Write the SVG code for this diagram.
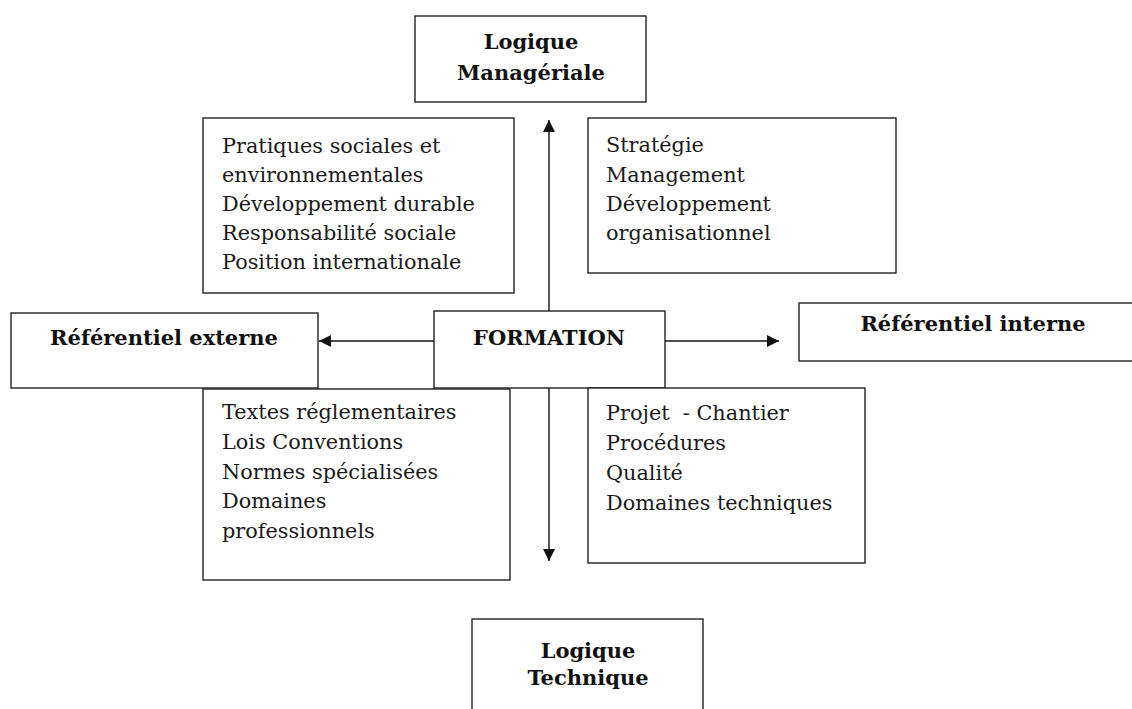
<svg xmlns="http://www.w3.org/2000/svg" width="1132" height="709" viewBox="0 0 1132 709">
<defs>
<style>
.box{fill:#fff;stroke:#222;stroke-width:1.4}
.t{font-family:"DejaVu Serif","Liberation Serif",serif;font-size:20.8px;fill:#1a1a1a}
.b{font-family:"DejaVu Serif","Liberation Serif",serif;font-size:21px;font-weight:bold;fill:#111;text-anchor:middle}
.c{stroke:#111;stroke-width:1.4;fill:none}
.pre{white-space:pre}
</style>
<marker id="ah" viewBox="0 0 10 10" refX="10" refY="5" markerWidth="12" markerHeight="12" markerUnits="userSpaceOnUse" orient="auto">
<path d="M0,0 L10,5 L0,10 z" fill="#111"/>
</marker>
</defs>
<rect width="1132" height="709" fill="#fff"/>
<g id="n-manageriale">
<rect class="box" x="415" y="16" width="231" height="86"/>
<text class="b" x="531" y="49">Logique</text>
<text class="b" x="531" y="80">Managériale</text>
</g>
<g id="n-pratiques">
<rect class="box" x="203" y="118" width="311" height="175"/>
<text class="t" x="222" y="153">Pratiques sociales et</text>
<text class="t" x="222" y="182">environnementales</text>
<text class="t" x="222" y="211">Développement durable</text>
<text class="t" x="222" y="240">Responsabilité sociale</text>
<text class="t" x="222" y="269">Position internationale</text>
</g>
<g id="n-strategie">
<rect class="box" x="588" y="118" width="308" height="155"/>
<text class="t" x="606" y="152">Stratégie</text>
<text class="t" x="606" y="182">Management</text>
<text class="t" x="606" y="211">Développement</text>
<text class="t" x="606" y="240">organisationnel</text>
</g>
<g id="n-externe">
<rect class="box" x="11" y="313" width="307" height="75"/>
<text class="b" x="164" y="345">Référentiel externe</text>
</g>
<g id="n-formation">
<rect class="box" x="434" y="311" width="231" height="77"/>
<text class="b" x="549" y="345">FORMATION</text>
</g>
<g id="n-interne">
<rect class="box" x="799" y="303" width="350" height="58"/>
<text class="b" x="973" y="331">Référentiel interne</text>
</g>
<g id="n-textes">
<rect class="box" x="203" y="389" width="307" height="191"/>
<text class="t" x="222" y="419">Textes réglementaires</text>
<text class="t" x="222" y="449">Lois Conventions</text>
<text class="t" x="222" y="479">Normes spécialisées</text>
<text class="t" x="222" y="508">Domaines</text>
<text class="t" x="222" y="538">professionnels</text>
</g>
<g id="n-projet">
<rect class="box" x="588" y="388" width="277" height="175"/>
<text class="t pre" x="606" y="420" xml:space="preserve">Projet  - Chantier</text>
<text class="t" x="606" y="450">Procédures</text>
<text class="t" x="606" y="480">Qualité</text>
<text class="t" x="606" y="510">Domaines techniques</text>
</g>
<g id="n-technique">
<rect class="box" x="472" y="619" width="231" height="100"/>
<text class="b" x="588" y="658">Logique</text>
<text class="b" x="588" y="685">Technique</text>
</g>
<g id="connectors">
<line class="c" x1="549" y1="311" x2="549" y2="120" marker-end="url(#ah)"/>
<line class="c" x1="434" y1="341" x2="319" y2="341" marker-end="url(#ah)"/>
<line class="c" x1="665" y1="341" x2="779" y2="341" marker-end="url(#ah)"/>
<line class="c" x1="549" y1="388" x2="549" y2="561" marker-end="url(#ah)"/>
</g>
</svg>
